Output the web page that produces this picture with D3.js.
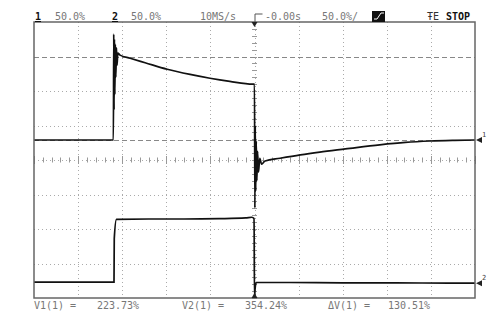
<!DOCTYPE html>
<html lang="en">
<head>
    <meta charset="UTF-8">
    <title>Scope capture</title>
    <script src="https://d3js.org/d3.v7.min.js"></script>
    <style>
        body { margin: 0; background: #fff; }
        text { font-family: "DejaVu Sans Mono", monospace; }
    </style>
</head>
<body>
<div id="chart"></div>
<script>
    // time axis in microseconds (50 us/div), levels in screen divisions
    const ch1Time = [-250, -200, -160, -159.6, -159.2, -158.8, -158.3, -157.8, -157.2, -156.5, -155.8, -155, -152.5,
        -141, -124, -99, -73, -50.5, -28, -2, 0, 0.4, 0.9, 1.4, 2, 2.7, 3.5, 4.5, 6, 8, 12, 29, 52, 74, 103, 142, 171, 199, 227, 250]
    const ch1Level = [0.58, 0.58, 0.58, 3.65, 1.45, 3.5, 1.9, 3.35, 2.4, 3.25, 2.75, 3.1, 3.04,
        2.95, 2.82, 2.63, 2.48, 2.37, 2.28, 2.2, 2.2, -1.39, 1.0, -0.9, 0.55, -0.6, 0.25, -0.35, 0.05, -0.12, -0.03, 0.05, 0.15, 0.23, 0.32, 0.44, 0.51, 0.55, 0.57, 0.58]
    const ch2Time = [-250, -200, -159.3, -159, -156.5, -120, -80, -40, -10, -3, -0.5, 0, 0.6, 2, 40, 100, 160, 220, 250]
    const ch2Level = [-3.54, -3.54, -3.54, -2.28, -1.72, -1.71, -1.71, -1.7, -1.68, -1.66, -1.7, -4.0, -3.75, -3.55, -3.55, -3.56, -3.56, -3.57, -3.57]
    const cursorLevels = [3.0, 0.58]
    const groundLevels = [0.58, -3.57]
    const groundLabels = ["1", "2"]
    const headerTexts = ["50.0%", "50.0%", "10MS/s", "-0.00s", "50.0%/"]
    const cursorTexts = ["V1(1) =", "223.73%", "V2(1) =", "354.24%", "\u0394V(1) =", "130.51%"]

    const W = 500, H = 320
    const FRAME = { LEFT: 34, RIGHT: 475, TOP: 22, BOTTOM: 298 }

    const svg = d3.select("#chart").append("svg")
        .attr("width", W).attr("height", H)

    const x = d3.scaleLinear().domain([-250, 250]).range([FRAME.LEFT, FRAME.RIGHT])
    const y = d3.scaleLinear().domain([-4, 4]).range([FRAME.BOTTOM, FRAME.TOP])

    svg.append("clipPath").attr("id", "plot")
        .append("rect")
        .attr("x", FRAME.LEFT).attr("y", FRAME.TOP)
        .attr("width", FRAME.RIGHT - FRAME.LEFT).attr("height", FRAME.BOTTOM - FRAME.TOP)

    const grid = svg.append("g").attr("stroke", "#aaa").attr("stroke-width", 1)

    // dotted graticule
    grid.selectAll(".vgrid").data(d3.range(-200, 250, 50).filter(d => d !== 0))
        .enter().append("line")
        .attr("x1", d => Math.round(x(d)) + 0.5).attr("x2", d => Math.round(x(d)) + 0.5)
        .attr("y1", FRAME.TOP).attr("y2", FRAME.BOTTOM)
        .attr("stroke-dasharray", "1,3")

    grid.selectAll(".hgrid").data(d3.range(-3, 4, 1).filter(d => d !== 0))
        .enter().append("line")
        .attr("y1", d => Math.round(y(d)) + 0.5).attr("y2", d => Math.round(y(d)) + 0.5)
        .attr("x1", FRAME.LEFT).attr("x2", FRAME.RIGHT)
        .attr("stroke-dasharray", "1,3")

    // centre lines with minor ticks
    grid.append("line")
        .attr("x1", FRAME.LEFT).attr("x2", FRAME.RIGHT)
        .attr("y1", Math.round(y(0)) + 0.5).attr("y2", Math.round(y(0)) + 0.5)
        .attr("stroke-dasharray", "1,3")
    grid.append("line")
        .attr("y1", FRAME.TOP).attr("y2", FRAME.BOTTOM)
        .attr("x1", Math.round(x(0)) + 0.5).attr("x2", Math.round(x(0)) + 0.5)
        .attr("stroke-dasharray", "1,3")

    grid.selectAll(".xtick").data(d3.range(-250, 251, 10))
        .enter().append("line")
        .attr("x1", d => Math.round(x(d)) + 0.5).attr("x2", d => Math.round(x(d)) + 0.5)
        .attr("y1", d => y(0) - (d % 50 === 0 ? 4 : 2.5)).attr("y2", d => y(0) + (d % 50 === 0 ? 4 : 2.5))
        .attr("stroke", "#999")

    grid.selectAll(".ytick").data(d3.range(-4, 4.01, 0.2))
        .enter().append("line")
        .attr("y1", d => Math.round(y(d)) + 0.5).attr("y2", d => Math.round(y(d)) + 0.5)
        .attr("x1", x(0) - 2.5).attr("x2", x(0) + 2.5)
        .attr("stroke", "#999")

    // cursor lines
    svg.selectAll(".cursor").data(cursorLevels)
        .enter().append("line")
        .attr("x1", FRAME.LEFT).attr("x2", FRAME.RIGHT)
        .attr("y1", d => Math.round(y(d)) + 0.5).attr("y2", d => Math.round(y(d)) + 0.5)
        .attr("stroke", "#888").attr("stroke-width", 1.2)
        .attr("stroke-dasharray", "5,3")

    // traces
    const line = d3.line().x(d => x(d[0])).y(d => y(d[1])).curve(d3.curveMonotoneX)
    const traces = svg.append("g").attr("clip-path", "url(#plot)")
    traces.append("path")
        .datum(d3.zip(ch1Time, ch1Level))
        .attr("d", line)
        .attr("fill", "none").attr("stroke", "#111").attr("stroke-width", 1.7)
    traces.append("path")
        .datum(d3.zip(ch2Time, ch2Level))
        .attr("d", line)
        .attr("fill", "none").attr("stroke", "#111").attr("stroke-width", 1.7)

    // frame
    svg.append("rect")
        .attr("x", FRAME.LEFT).attr("y", FRAME.TOP)
        .attr("width", FRAME.RIGHT - FRAME.LEFT).attr("height", FRAME.BOTTOM - FRAME.TOP)
        .attr("fill", "none").attr("stroke", "#666").attr("stroke-width", 1.5)

    // ground level markers on the right edge
    const markers = svg.selectAll(".gnd").data(groundLevels).enter().append("g")
        .attr("transform", d => `translate(${FRAME.RIGHT + 1}, ${y(d)})`)
    markers.append("path").attr("d", "M0,0 L6,-3 L6,3 Z").attr("fill", "#222")
    markers.append("text")
        .attr("x", 6).attr("y", -3)
        .attr("font-size", "7px").attr("fill", "#444")
        .text((d, i) => groundLabels[i])

    // trigger position markers
    svg.append("path")
        .attr("d", `M${x(0) - 3},${FRAME.TOP} L${x(0) + 3},${FRAME.TOP} L${x(0)},${FRAME.TOP + 5} Z`)
        .attr("fill", "#222")
    svg.append("path")
        .attr("d", `M${x(0) - 3},${FRAME.BOTTOM} L${x(0) + 3},${FRAME.BOTTOM} L${x(0)},${FRAME.BOTTOM - 5} Z`)
        .attr("fill", "#222")

    // header
    const header = svg.append("g").attr("font-size", "10px")
    header.append("text").attr("x", 35).attr("y", 20).attr("fill", "#111").attr("font-weight", "bold")
        .attr("text-decoration", "underline").text("1")
    header.append("text").attr("x", 112).attr("y", 20).attr("fill", "#111").attr("font-weight", "bold")
        .attr("text-decoration", "underline").text("2")
    const headerX = [55, 131, 200, 265, 322]
    header.selectAll(".hv").data(headerTexts).enter().append("text")
        .attr("x", (d, i) => headerX[i]).attr("y", 20)
        .attr("fill", "#777")
        .text(d => d)
    // trigger delay symbol
    header.append("path")
        .attr("d", `M${x(0) + 0.5},${FRAME.TOP} L${x(0) + 0.5},14 L${x(0) + 8},14`)
        .attr("fill", "none").attr("stroke", "#555").attr("stroke-width", 1)
    // slope box
    header.append("rect").attr("x", 372).attr("y", 11).attr("width", 13).attr("height", 11).attr("fill", "#111")
    header.append("path").attr("d", "M374,19 L377,19 L381,13 L384,13")
        .attr("fill", "none").attr("stroke", "#fff").attr("stroke-width", 1)
    header.append("text").attr("x", 427).attr("y", 20).attr("fill", "#333").text("\u0166E")
    header.append("text").attr("x", 446).attr("y", 20).attr("fill", "#111").attr("font-weight", "bold").text("STOP")

    // cursor readout
    const footX = [34, 97, 182, 245, 328, 388]
    svg.append("g").attr("font-size", "10px")
        .selectAll("text").data(cursorTexts).enter().append("text")
        .attr("x", (d, i) => footX[i]).attr("y", 309)
        .attr("fill", "#777")
        .text(d => d)
</script>
</body>
</html>
